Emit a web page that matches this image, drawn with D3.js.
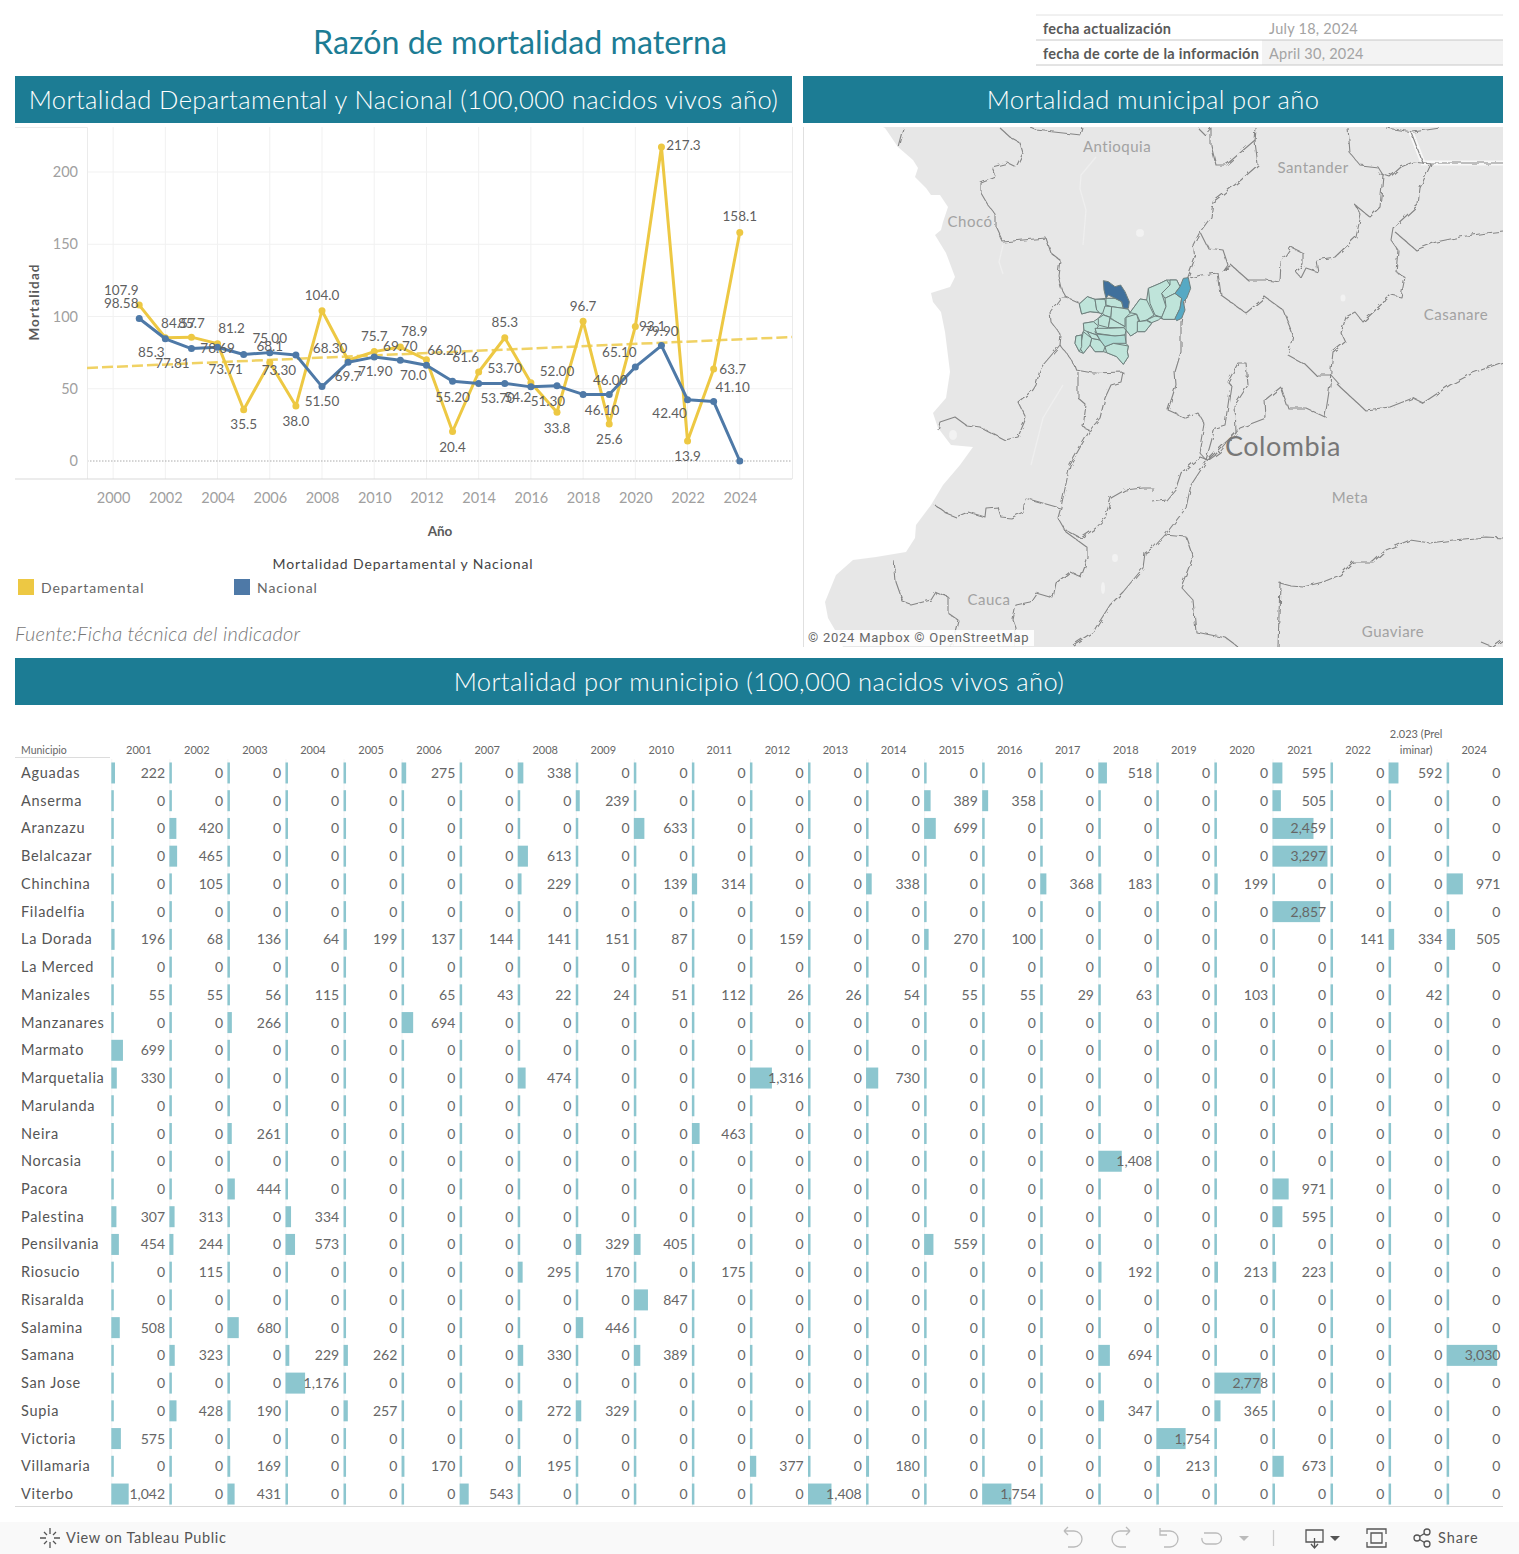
<!DOCTYPE html>
<html>
<head>
<meta charset="utf-8">
<title>Razón de mortalidad materna</title>
<script src="https://cdnjs.cloudflare.com/ajax/libs/d3/7.8.5/d3.min.js"></script>
<style>
  body { margin: 0; background: #fff; }
  svg { display: block; font-family: Lato, "Open Sans", sans-serif; }
  .tick line { display: none; }
  .domain { display: none; }
</style>
</head>
<body>
<div id="chart"></div>
<script>
// ---- line chart data ----
var years = [2001,2002,2003,2004,2005,2006,2007,2008,2009,2010,2011,2012,2013,2014,2015,2016,2017,2018,2019,2020,2021,2022,2023,2024];
var departamental = [107.9,85.3,85.7,81.2,35.5,68.1,38.0,104.0,69.7,75.7,78.9,70.0,20.4,61.6,85.3,54.2,33.8,96.7,25.6,93.1,217.3,13.9,63.7,158.1];
var nacional = [98.58,84.57,77.81,78.69,73.71,75.00,73.30,51.50,68.30,71.90,69.70,66.20,55.20,53.70,53.70,51.30,52.00,46.10,46.00,65.10,79.90,42.40,41.10,0];
var trendYears = [1999,2026];
var trendValues = [64.4,85.8];
var xTicks = [2000,2002,2004,2006,2008,2010,2012,2014,2016,2018,2020,2022,2024];
var yTicks = [0,50,100,150,200];
// label offsets from their point, same order as years
var deptOffsets = [[-18,-15],[-14,15],[0,-14],[14,-15],[0,15],[0,-16],[0,15],[0,-15],[0,16],[0,-15],[14,-15],[-13,16],[0,16],[-13,-14],[0,-15],[-13,15],[0,16],[0,-15],[0,15],[17,0],[22,-2],[0,16],[19,1],[0,-16]];
var natOffsets = [[-18,-15],[13,-15],[-19,15],[0,1],[-18,15],[0,-14],[-17,15],[0,15],[-18,-14],[1,14],[0,-14],[18,-15],[0,16],[19,15],[0,-15],[17,15],[0,-14],[19,16],[1,-14],[-16,-14],[0,-14],[-18,14],[19,-14]];

// ---- table data ----
var tableYears = ["2001","2002","2003","2004","2005","2006","2007","2008","2009","2010","2011","2012","2013","2014","2015","2016","2017","2018","2019","2020","2021","2022","2.023 (Prel|iminar)","2024"];
var municipios = ["Aguadas","Anserma","Aranzazu","Belalcazar","Chinchina","Filadelfia","La Dorada","La Merced","Manizales","Manzanares","Marmato","Marquetalia","Marulanda","Neira","Norcasia","Pacora","Palestina","Pensilvania","Riosucio","Risaralda","Salamina","Samana","San Jose","Supia","Victoria","Villamaria","Viterbo"];
var aguadas =     [222,0,0,0,0,275,0,338,0,0,0,0,0,0,0,0,0,518,0,0,595,0,592,0];
var anserma =     [0,0,0,0,0,0,0,0,239,0,0,0,0,0,389,358,0,0,0,0,505,0,0,0];
var aranzazu =    [0,420,0,0,0,0,0,0,0,633,0,0,0,0,699,0,0,0,0,0,2459,0,0,0];
var belalcazar =  [0,465,0,0,0,0,0,613,0,0,0,0,0,0,0,0,0,0,0,0,3297,0,0,0];
var chinchina =   [0,105,0,0,0,0,0,229,0,139,314,0,0,338,0,0,368,183,0,199,0,0,0,971];
var filadelfia =  [0,0,0,0,0,0,0,0,0,0,0,0,0,0,0,0,0,0,0,0,2857,0,0,0];
var laDorada =    [196,68,136,64,199,137,144,141,151,87,0,159,0,0,270,100,0,0,0,0,0,141,334,505];
var laMerced =    [0,0,0,0,0,0,0,0,0,0,0,0,0,0,0,0,0,0,0,0,0,0,0,0];
var manizales =   [55,55,56,115,0,65,43,22,24,51,112,26,26,54,55,55,29,63,0,103,0,0,42,0];
var manzanares =  [0,0,266,0,0,694,0,0,0,0,0,0,0,0,0,0,0,0,0,0,0,0,0,0];
var marmato =     [699,0,0,0,0,0,0,0,0,0,0,0,0,0,0,0,0,0,0,0,0,0,0,0];
var marquetalia = [330,0,0,0,0,0,0,474,0,0,0,1316,0,730,0,0,0,0,0,0,0,0,0,0];
var marulanda =   [0,0,0,0,0,0,0,0,0,0,0,0,0,0,0,0,0,0,0,0,0,0,0,0];
var neira =       [0,0,261,0,0,0,0,0,0,0,463,0,0,0,0,0,0,0,0,0,0,0,0,0];
var norcasia =    [0,0,0,0,0,0,0,0,0,0,0,0,0,0,0,0,0,1408,0,0,0,0,0,0];
var pacora =      [0,0,444,0,0,0,0,0,0,0,0,0,0,0,0,0,0,0,0,0,971,0,0,0];
var palestina =   [307,313,0,334,0,0,0,0,0,0,0,0,0,0,0,0,0,0,0,0,595,0,0,0];
var pensilvania = [454,244,0,573,0,0,0,0,329,405,0,0,0,0,559,0,0,0,0,0,0,0,0,0];
var riosucio =    [0,115,0,0,0,0,0,295,170,0,175,0,0,0,0,0,0,192,0,213,223,0,0,0];
var risaralda =   [0,0,0,0,0,0,0,0,0,847,0,0,0,0,0,0,0,0,0,0,0,0,0,0];
var salamina =    [508,0,680,0,0,0,0,0,446,0,0,0,0,0,0,0,0,0,0,0,0,0,0,0];
var samana =      [0,323,0,229,262,0,0,330,0,389,0,0,0,0,0,0,0,694,0,0,0,0,0,3030];
var sanJose =     [0,0,0,1176,0,0,0,0,0,0,0,0,0,0,0,0,0,0,0,2778,0,0,0,0];
var supia =       [0,428,190,0,257,0,0,272,329,0,0,0,0,0,0,0,0,347,0,365,0,0,0,0];
var victoria =    [575,0,0,0,0,0,0,0,0,0,0,0,0,0,0,0,0,0,1754,0,0,0,0,0];
var villamaria =  [0,0,169,0,0,170,0,195,0,0,0,377,0,180,0,0,0,0,213,0,673,0,0,0];
var viterbo =     [1042,0,431,0,0,0,543,0,0,0,0,0,1408,0,0,1754,0,0,0,0,0,0,0,0];
var tableRows = [aguadas,anserma,aranzazu,belalcazar,chinchina,filadelfia,laDorada,laMerced,manizales,manzanares,marmato,marquetalia,marulanda,neira,norcasia,pacora,palestina,pensilvania,riosucio,risaralda,salamina,samana,sanJose,supia,victoria,villamaria,viterbo];

// ---- map outlines, traced from the basemap (map units, 700 x 520) ----
var ocean = [[0,0],[80,0],[82,1],[95,20],[110,33],[115,41],[112,50],[123,61],[128,68],[137,68],[145,80],[140,95],[138,103],[132,108],[143,126],[152,150],[147,160],[128,166],[130,175],[138,185],[142,205],[147,245],[145,258],[143,271],[130,286],[135,301],[148,318],[170,320],[157,338],[140,358],[128,378],[113,398],[112,411],[103,425],[73,430],[50,433],[33,448],[22,475],[25,491],[32,503],[40,520],[0,520]];
var borders = [
  [[95,20],[100,1]],
  [[197,1],[208,11],[217,16],[220,26],[213,40],[205,36],[189,40],[193,50],[178,56],[178,66],[185,78],[193,88],[193,100],[200,115],[220,113],[243,111],[248,126],[257,133],[255,148],[258,161],[263,170],[277,176]],
  [[263,170],[258,170],[247,185],[248,195],[258,208],[257,218],[240,238],[237,243],[233,258],[230,263],[215,275],[223,291],[215,310],[202,313],[177,300],[163,298],[152,290],[137,295],[135,303]],
  [[257,218],[270,235],[273,243],[290,246],[320,245],[318,255],[308,258],[302,271],[297,291],[287,303],[267,338],[258,380],[255,391],[263,405],[285,421],[285,431],[278,450],[267,445],[253,456],[250,471],[233,466],[227,475],[213,478],[210,493],[213,501],[212,520]],
  [[275,245],[275,271],[283,278],[280,300],[287,303]],
  [[132,378],[143,386],[153,390],[165,385],[182,390],[183,381],[195,380],[198,390],[208,391],[220,385],[222,371],[257,381]],
  [[91,433],[93,455],[100,475],[108,478],[128,473],[133,465],[145,470],[145,486],[155,493],[153,501],[148,520]],
  [[350,366],[350,361],[340,361],[322,363],[308,371],[302,391],[293,401],[278,411],[263,403]],
  [[350,375],[363,373],[373,361],[378,346],[397,330],[405,333]],
  [[270,518],[290,505],[307,478],[320,465],[340,441],[342,426],[350,421],[362,408],[383,381],[388,358],[403,335],[417,325],[437,301],[463,291],[462,273],[478,260],[485,281],[503,281],[522,290],[527,258],[528,243]],
  [[362,408],[383,410],[390,430],[378,460],[390,473],[393,505],[423,511],[435,520]],
  [[373,258],[365,283],[383,291],[395,286],[402,298],[397,326],[403,333],[412,301],[422,298],[428,258],[425,255],[435,236],[443,236],[445,258],[432,278],[433,306],[422,316],[405,333]],
  [[535,258],[562,283],[587,280],[610,271],[620,276],[647,258],[670,246],[700,235]],
  [[475,520],[477,456],[488,459],[500,460],[520,455],[537,448],[550,435],[570,435],[583,423],[607,413],[627,416],[650,413],[683,410],[700,411]],
  [[678,515],[690,520],[700,513]],
  [[453,1],[452,15],[455,38],[438,53],[410,75],[408,90],[397,105],[390,118],[392,131],[385,150],[378,195],[378,225],[372,245],[373,258]],
  [[395,1],[402,8],[408,1],[408,18],[413,38],[423,38],[452,13]],
  [[397,105],[405,121],[420,123],[425,138],[420,145],[428,138],[445,153],[463,153],[477,155],[478,135],[488,120],[500,126],[500,138],[493,145],[498,151],[503,141],[515,145],[513,133],[532,130],[553,110],[558,88],[552,78],[567,90],[577,80],[580,48],[575,40],[557,38],[547,26],[545,1]],
  [[575,46],[587,50],[598,40],[610,35],[628,37],[617,61],[615,78],[590,101],[588,113],[595,123],[593,145],[602,150],[598,170],[588,168],[560,195],[552,185],[543,190],[538,206],[542,215],[530,225],[528,243]],
  [[592,105],[613,123],[633,115],[657,110],[683,106],[700,104]],
  [[583,1],[610,5],[637,1]],
  [[387,151],[398,148],[415,146],[418,168],[443,186],[462,170],[480,183],[490,208],[485,228],[503,238],[513,248],[528,248],[537,258]],
  [[228,1],[233,3],[278,8],[280,1]]
];
var frontier = [[608,5],[620,36],[700,36]];
var rivers = [[[260,258],[240,291],[228,338]],[[293,30],[278,48],[277,62],[283,83],[280,118]],[[200,118],[196,135],[200,147]]];
var lakes = [[337,106,4,4],[540,171,2.5,3.5],[312,431,3,4],[300,461,2,6],[150,308,4,5]];
// Caldas municipalities, traced at 3x from a crop (map units x 3)
var caldasOutline = [[238,222],[262,200],[285,208],[318,205],[345,205],[370,235],[385,238],[390,248],[420,207],[440,210],[445,175],[480,160],[500,150],[530,150],[540,170],[525,190],[545,205],[540,235],[525,268],[490,268],[465,258],[455,280],[435,305],[412,305],[392,318],[378,300],[378,340],[385,348],[382,365],[385,380],[370,403],[350,380],[320,368],[310,365],[285,365],[270,345],[250,370],[238,365],[225,340],[228,318],[245,315],[252,300],[250,280],[280,275],[295,265],[308,250],[270,245],[245,252]];
var caldasPale = [
  [[238,222],[262,200],[285,208],[290,240],[300,248],[270,245],[245,252]],
  [[285,208],[315,208],[318,225],[310,250],[300,250],[290,240]],
  [[318,205],[345,205],[365,215],[370,235],[335,230],[318,225]],
  [[335,230],[370,235],[385,238],[390,250],[375,265],[375,290],[340,270],[332,262]],
  [[315,228],[335,230],[332,262],[312,255],[308,250]],
  [[310,255],[330,262],[325,293],[295,285],[295,265]],
  [[330,265],[375,290],[370,293],[325,293]],
  [[378,262],[410,252],[415,270],[412,305],[392,318],[378,300]],
  [[390,248],[420,207],[440,210],[462,255],[440,270],[420,275],[410,252]],
  [[445,175],[480,160],[500,150],[510,165],[485,190],[498,230],[485,262],[465,255],[450,220]],
  [[510,150],[530,150],[540,170],[525,190],[495,205],[485,190],[510,165]],
  [[495,205],[525,190],[545,205],[540,235],[525,268],[490,268],[485,262],[498,230]],
  [[412,275],[440,272],[455,280],[435,305],[412,305]],
  [[440,270],[465,258],[485,262],[475,270],[455,278]],
  [[250,280],[280,275],[295,288],[285,305],[290,315],[262,305],[252,300]],
  [[285,295],[325,295],[370,293],[378,300],[375,315],[345,318],[290,310]],
  [[315,350],[340,340],[385,348],[382,365],[385,380],[370,403],[350,380],[320,368]],
  [[275,325],[300,330],[315,350],[310,365],[285,365],[270,345]],
  [[250,305],[275,325],[270,345],[250,370],[240,355],[245,330]],
  [[228,318],[245,315],[245,350],[238,365],[225,340]],
  [[262,305],[290,315],[300,330],[275,325]]
];
var caldasMid = [[[290,312],[345,318],[375,315],[378,340],[340,340],[315,350],[300,330]]];
var caldasDark = [[[310,152],[325,155],[345,170],[362,165],[375,185],[388,215],[385,235],[370,235],[365,215],[345,205],[325,195],[318,205],[312,180]]];
var caldasEast = [[[550,145],[565,143],[572,175],[560,205],[550,215],[555,240],[545,265],[530,272],[525,265],[540,235],[545,205],[525,190],[540,170]]];
var mapLabels = [["Antioquia",314,20,15],["Santander",510,41,15],["Chocó",167,95,15],["Casanare",653,188,15],["Colombia",480,320,27],["Meta",547,371,15],["Cauca",186,473,15],["Guaviare",590,505,15]];

var svg = d3.select("#chart").append("svg").attr("width", 1519).attr("height", 1554);

// ---- title and headers ----
var teal = "#1c7c94";
svg.append("text").attr("x", 520).attr("y", 54).attr("text-anchor", "middle")
  .attr("font-size", 32.2).attr("fill", teal).text("Razón de mortalidad materna");

function banner(x, y, w, h, label) {
  svg.append("rect").attr("x", x).attr("y", y).attr("width", w).attr("height", h).attr("fill", teal);
  svg.append("text").attr("x", x + w / 2).attr("y", y + h / 2 + 9).attr("text-anchor", "middle")
    .attr("font-size", 25.5).attr("font-weight", 300).attr("letter-spacing", 0.42).attr("fill", "#fff").text(label);
}
banner(15, 76, 777, 47, "Mortalidad Departamental y Nacional (100,000 nacidos vivos año)");
banner(803, 76, 700, 47, "Mortalidad municipal por año");
banner(15, 658, 1488, 47, "Mortalidad por municipio (100,000 nacidos vivos año)");

// update dates box
svg.append("rect").attr("x", 1262).attr("y", 40).attr("width", 241).attr("height", 25).attr("fill", "#f3f3f3");
[15, 40, 65].forEach(function(y) {
  svg.append("line").attr("x1", 1036).attr("x2", 1503).attr("y1", y).attr("y2", y)
    .attr("stroke", y == 15 ? "#e2e2e2" : "#c8c8c8");
});
[["fecha actualización", "July 18, 2024", 34], ["fecha de corte de la información", "April 30, 2024", 59]].forEach(function(r) {
  svg.append("text").attr("x", 1043).attr("y", r[2]).attr("font-size", 14.5).attr("font-weight", 700).attr("letter-spacing", 0.3).attr("fill", "#595959").text(r[0]);
  svg.append("text").attr("x", 1269).attr("y", r[2]).attr("font-size", 14.5).attr("letter-spacing", 0.25).attr("fill", "#a3a3a3").text(r[1]);
});

// ---- line chart ----
var x = d3.scaleLinear().domain([1999, 2026]).range([87, 792]);
var y = d3.scaleLinear().domain([0, 200]).range([461, 172]);
var lineG = svg.append("g");

lineG.selectAll("line.vgrid").data(xTicks).enter().append("line")
  .attr("x1", x).attr("x2", x).attr("y1", 127).attr("y2", 479).attr("stroke", "#f1f1f1");
lineG.selectAll("line.hgrid").data(yTicks.slice(1)).enter().append("line")
  .attr("x1", 87).attr("x2", 792).attr("y1", y).attr("y2", y).attr("stroke", "#f1f1f1");
lineG.append("line").attr("x1", 87).attr("x2", 792).attr("y1", y(0)).attr("y2", y(0))
  .attr("stroke", "#aaa").attr("stroke-dasharray", "1.5,1.5");
lineG.append("path").attr("d", "M15,127.5H87.5V479M792.5,127V479").attr("fill", "none").attr("stroke", "#ebebeb");
lineG.append("line").attr("x1", 15).attr("x2", 792).attr("y1", 479).attr("y2", 479).attr("stroke", "#d9d9d9");

var xAxis = lineG.append("g").attr("transform", "translate(0,479)")
  .call(d3.axisBottom(x).tickValues(xTicks).tickFormat(d3.format("d")).tickSize(0).tickPadding(14));
xAxis.selectAll("text").attr("font-size", 14.5).attr("font-family", "Lato").attr("fill", "#a0a0a0");
var yAxis = lineG.append("g").attr("transform", "translate(78,0)")
  .call(d3.axisLeft(y).tickValues(yTicks).tickSize(0).tickPadding(0));
yAxis.selectAll("text").attr("font-size", 14.5).attr("font-family", "Lato").attr("fill", "#a0a0a0");

var line = d3.line().x(function(d) { return x(d[0]); }).y(function(d) { return y(d[1]); });
lineG.append("path").datum(d3.zip(trendYears, trendValues)).attr("d", line).attr("fill", "none")
  .attr("stroke", "#f0d264").attr("stroke-width", 2.5).attr("stroke-dasharray", "11,4");

function drawSeries(values, colour) {
  var pts = d3.zip(years, values);
  lineG.append("path").datum(pts).attr("d", line).attr("fill", "none")
    .attr("stroke", colour).attr("stroke-width", 3).attr("stroke-linejoin", "round");
  lineG.selectAll(null).data(pts).enter().append("circle")
    .attr("cx", function(d) { return x(d[0]); }).attr("cy", function(d) { return y(d[1]); })
    .attr("r", 3.5).attr("fill", colour);
}
drawSeries(departamental, "#edc843");
drawSeries(nacional, "#4e79a7");

function drawLabels(values, offsets, fmt) {
  lineG.selectAll(null).data(offsets).enter().append("text")
    .attr("x", function(d, i) { return x(years[i]) + d[0]; })
    .attr("y", function(d, i) { return y(values[i]) + d[1] + 4.5; })
    .attr("text-anchor", "middle").attr("font-size", 13.5).attr("fill", "#5f5f5f")
    .text(function(d, i) { return fmt(values[i]); });
}
drawLabels(departamental, deptOffsets, d3.format(".1f"));
drawLabels(nacional, natOffsets, d3.format(".2f"));

svg.append("text").attr("transform", "translate(39,302) rotate(-90)").attr("text-anchor", "middle")
  .attr("font-size", 13.5).attr("font-weight", 700).attr("letter-spacing", 1.1).attr("fill", "#5a5a5a").text("Mortalidad");
svg.append("text").attr("x", 440).attr("y", 536).attr("text-anchor", "middle")
  .attr("font-size", 13.5).attr("font-weight", 700).attr("fill", "#5a5a5a").text("Año");
svg.append("text").attr("x", 403).attr("y", 569).attr("text-anchor", "middle")
  .attr("font-size", 14).attr("letter-spacing", 0.9).attr("fill", "#444").text("Mortalidad Departamental y Nacional");
[["Departamental", "#edc843", 18], ["Nacional", "#4e79a7", 234]].forEach(function(d) {
  svg.append("rect").attr("x", d[2]).attr("y", 579).attr("width", 16).attr("height", 16).attr("fill", d[1]);
  svg.append("text").attr("x", d[2] + 23).attr("y", 593).attr("font-size", 14).attr("letter-spacing", 0.9)
    .attr("fill", "#666").text(d[0]);
});
svg.append("text").attr("x", 15).attr("y", 641).attr("font-size", 20).attr("font-style", "italic")
  .attr("font-weight", 300).attr("letter-spacing", 0.25).attr("fill", "#777").text("Fuente:Ficha técnica del indicador");

// ---- map ----
var defs = svg.append("defs");
var wiggle = defs.append("filter").attr("id", "wiggle").attr("filterUnits", "userSpaceOnUse")
  .attr("x", 803).attr("y", 127).attr("width", 700).attr("height", 520);
wiggle.append("feTurbulence").attr("type", "fractalNoise").attr("baseFrequency", 0.14).attr("numOctaves", 2).attr("seed", 4).attr("result", "n");
wiggle.append("feDisplacementMap").attr("in", "SourceGraphic").attr("in2", "n").attr("scale", 5).attr("result", "d");
wiggle.append("feGaussianBlur").attr("in", "d").attr("stdDeviation", 0.35);
var soft = defs.append("filter").attr("id", "soft").attr("filterUnits", "userSpaceOnUse")
  .attr("x", 803).attr("y", 127).attr("width", 700).attr("height", 520);
soft.append("feGaussianBlur").attr("stdDeviation", 0.5);

var mapX = d3.scaleLinear().domain([0, 700]).range([803, 1503]);
var mapY = d3.scaleLinear().domain([0, 520]).range([127, 647]);
var caldasX = d3.scaleLinear().domain([0, 780]).range([1000, 1260]);
var caldasY = d3.scaleLinear().domain([0, 480]).range([230, 390]);
svg.append("clipPath").attr("id", "mapclip").append("rect")
  .attr("x", 803).attr("y", 127).attr("width", 700).attr("height", 520);
var mapG = svg.append("g").attr("clip-path", "url(#mapclip)");
var mapLine = d3.line().x(function(d) { return mapX(d[0]); }).y(function(d) { return mapY(d[1]); });
var caldasLine = d3.line().x(function(d) { return caldasX(d[0]); }).y(function(d) { return caldasY(d[1]); });

mapG.append("rect").attr("x", 803).attr("y", 127).attr("width", 700).attr("height", 520).attr("fill", "#e7e7e7");
var softG = mapG.append("g").attr("filter", "url(#soft)");
softG.append("path").attr("d", mapLine(ocean) + "Z").attr("fill", "#fff");
softG.selectAll("path.river").data(rivers).enter().append("path").attr("class", "river")
  .attr("d", mapLine).attr("fill", "none").attr("stroke", "#efefef").attr("stroke-width", 1.2);
softG.selectAll("ellipse").data(lakes).enter().append("ellipse")
  .attr("cx", function(d) { return mapX(d[0]); }).attr("cy", function(d) { return mapY(d[1]); })
  .attr("rx", function(d) { return d[2]; }).attr("ry", function(d) { return d[3]; }).attr("fill", "#f2f2f2");
softG.append("path").attr("d", mapLine(frontier)).attr("fill", "none").attr("stroke", "#f8f8f8").attr("stroke-width", 5);
mapG.append("g").attr("filter", "url(#wiggle)").selectAll("path.border").data(borders.concat([frontier])).enter().append("path").attr("class", "border")
  .attr("d", mapLine).attr("fill", "none").attr("stroke", "#858585").attr("stroke-width", 1.1).attr("stroke-linejoin", "round");

var muniG = mapG.append("g").attr("filter", "url(#soft)");
function drawMunis(polys, fill) {
  muniG.selectAll(null).data(polys).enter().append("path")
    .attr("d", function(d) { return caldasLine(d) + "Z"; })
    .attr("fill", fill).attr("stroke", "#6f7f7d").attr("stroke-width", 1).attr("stroke-linejoin", "round");
}
drawMunis([caldasOutline], "#bfe4da");
drawMunis(caldasPale, "#bfe4da");
drawMunis(caldasMid, "#aedcd4");
drawMunis(caldasDark, "#41709c");
drawMunis(caldasEast, "#57a9c4");

mapG.selectAll("text.place").data(mapLabels).enter().append("text").attr("class", "place")
  .attr("x", function(d) { return mapX(d[1]); }).attr("y", function(d) { return mapY(d[2]) + d[3] * 0.35; })
  .attr("text-anchor", "middle").attr("font-size", function(d) { return d[3]; })
  .attr("letter-spacing", 0.5).attr("fill", function(d) { return d[3] > 20 ? "#777" : "#a2a2a2"; })
  .text(function(d) { return d[0]; });
svg.append("line").attr("x1", 803.5).attr("x2", 803.5).attr("y1", 127).attr("y2", 647).attr("stroke", "#e0e0e0");
svg.append("rect").attr("x", 806).attr("y", 630).attr("width", 228).attr("height", 16).attr("fill", "#fff").attr("opacity", 0.85);
svg.append("text").attr("x", 808).attr("y", 642).attr("font-size", 13).attr("font-family", "Roboto").attr("letter-spacing", 0.75)
  .attr("fill", "#666").text("© 2024 Mapbox  © OpenStreetMap");

// ---- municipio table ----
var colX = d3.scaleBand().domain(d3.range(tableYears.length)).range([111.3, 1504.7]);
var rowY = d3.scaleBand().domain(municipios).range([759.1, 1507.9]);
var barW = d3.scaleLinear().domain([0, 3297]).range([0, 55]);
var barH = 21;
var tableG = svg.append("g");

tableG.selectAll("line.col").data(d3.range(tableYears.length)).enter().append("line")
  .attr("x1", function(d) { return colX(d) + 0.5; }).attr("x2", function(d) { return colX(d) + 0.5; })
  .attr("y1", 759).attr("y2", 1506).attr("stroke", "#f4f4f4");
tableG.append("line").attr("x1", 15).attr("x2", 110).attr("y1", 757.5).attr("y2", 757.5).attr("stroke", "#dcdcdc");
tableG.append("line").attr("x1", 15).attr("x2", 1503).attr("y1", 1506.5).attr("y2", 1506.5).attr("stroke", "#d9d9d9");
tableG.append("text").attr("x", 21).attr("y", 754).attr("font-size", 10.5).attr("fill", "#666").text("Municipio");

tableYears.forEach(function(label, i) {
  var parts = label.split("|");
  parts.forEach(function(p, j) {
    tableG.append("text").attr("x", colX(i) + 27.5).attr("y", 754 - (parts.length - 1 - j) * 16)
      .attr("text-anchor", "middle").attr("font-size", 11).attr("fill", "#666").text(p);
  });
});

var rowG = tableG.selectAll("g.row").data(municipios).enter().append("g").attr("class", "row")
  .attr("transform", function(d) { return "translate(0," + (rowY(d) + rowY.bandwidth() / 2) + ")"; });
rowG.append("text").attr("x", 21).attr("y", 5).attr("font-size", 14.5).attr("letter-spacing", 0.7).attr("fill", "#555").text(function(d) { return d; });
rowG.each(function(d, r) {
  var g = d3.select(this);
  var cells = g.selectAll("g.cell").data(tableRows[r]).enter().append("g").attr("class", "cell")
    .attr("transform", function(v, i) { return "translate(" + colX(i) + ",0)"; });
  cells.append("rect").attr("y", -barH / 2).attr("height", barH)
    .attr("width", function(v) { return Math.max(barW(v), 2.5); }).attr("fill", "#8cc6cf");
  cells.append("text").attr("x", colX.bandwidth() - 4.3).attr("y", 5).attr("text-anchor", "end")
    .attr("font-size", 14).attr("fill", "#666").text(function(v) { return d3.format(",")(v); });
});

// ---- toolbar ----
svg.append("rect").attr("x", 0).attr("y", 1522).attr("width", 1519).attr("height", 32).attr("fill", "#f9f9f9");
svg.append("text").attr("x", 66).attr("y", 1543).attr("font-size", 14.5).attr("letter-spacing", 0.65).attr("fill", "#555").text("View on Tableau Public");
svg.append("text").attr("x", 1438).attr("y", 1543).attr("font-size", 14.5).attr("letter-spacing", 1).attr("fill", "#555").text("Share");
var tg = svg.append("g").attr("fill", "none").attr("stroke", "#555").attr("stroke-width", 1.3);
tg.append("path").attr("d", "M50,1528V1534M50,1542V1548M40,1538H46M54,1538H60M44,1532L47,1535M56,1532L53,1535M44,1544L47,1541M56,1544L53,1541");
tg.append("path").attr("stroke", "#bbb").attr("d", "M1064,1531L1068,1535M1064,1531L1068,1527M1064,1531H1074A7,7 0 0 1 1074,1547H1068");
tg.append("path").attr("stroke", "#bbb").attr("d", "M1130,1531L1126,1535M1130,1531L1126,1527M1130,1531H1120A7,7 0 0 0 1120,1547H1126");
tg.append("path").attr("stroke", "#bbb").attr("d", "M1160,1528V1535H1167M1160,1531H1170A7,7 0 0 1 1170,1547H1164");
tg.append("path").attr("stroke", "#bbb").attr("d", "M1204,1533H1216A5,5 0 0 1 1216,1544H1206A5,5 0 0 1 1202,1538");
tg.append("path").attr("stroke", "none").attr("fill", "#bbb").attr("d", "M1239,1536H1249L1244,1541Z");
tg.append("path").attr("stroke", "#ccc").attr("d", "M1273.5,1530V1546");
tg.append("path").attr("d", "M1306,1530H1323V1542H1306ZM1314.5,1538V1548M1311,1544L1314.5,1548L1318,1544");
tg.append("path").attr("stroke", "none").attr("fill", "#555").attr("d", "M1330,1536H1340L1335,1541Z");
tg.append("path").attr("d", "M1367,1534V1529H1386V1534M1367,1542V1547H1386V1542M1371,1533H1382V1543H1371Z");
tg.append("path").attr("d", "M1417,1538L1427,1532M1417,1538L1427,1544");
tg.selectAll("circle").data([[1417,1538],[1427,1532],[1427,1544]]).enter().append("circle")
  .attr("cx", function(d) { return d[0]; }).attr("cy", function(d) { return d[1]; }).attr("r", 3).attr("fill", "#f9f9f9");
</script>
</body>
</html>
